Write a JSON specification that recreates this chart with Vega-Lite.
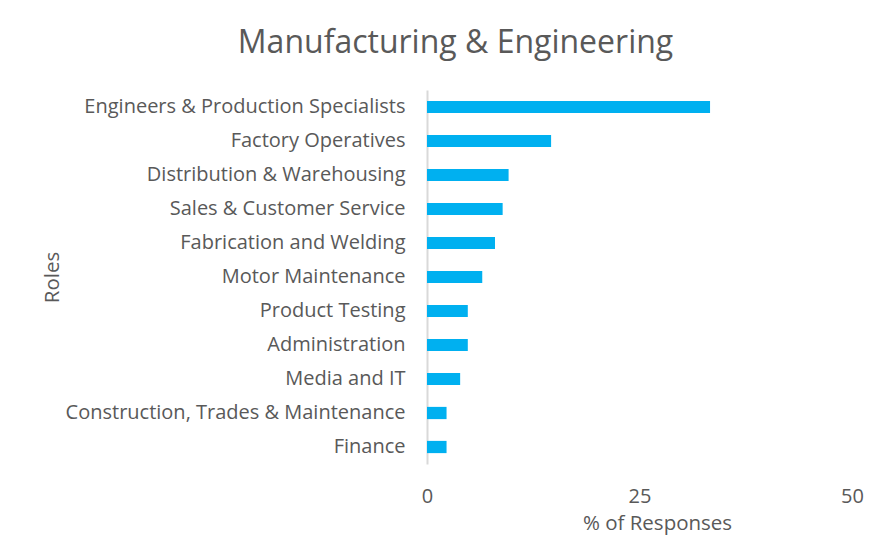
{
  "$schema": "https://vega.github.io/schema/vega-lite/v6.json",
  "width": 425,
  "height": 374,
  "autosize": {"type": "none"},
  "padding": {"left": 427, "top": 90, "right": 24, "bottom": 75},
  "background": "white",
  "title": {
    "text": "Manufacturing & Engineering",
    "font": "Open Sans",
    "fontSize": 32,
    "fontWeight": "normal",
    "color": "#595959",
    "anchor": "middle",
    "dx": -184,
    "offset": 30
  },
  "data": {
    "values": [
      {"role": "Engineers & Production Specialists", "pct": 33.3},
      {"role": "Factory Operatives", "pct": 14.6},
      {"role": "Distribution & Warehousing", "pct": 9.6},
      {"role": "Sales & Customer Service", "pct": 8.9},
      {"role": "Fabrication and Welding", "pct": 8.0},
      {"role": "Motor Maintenance", "pct": 6.5},
      {"role": "Product Testing", "pct": 4.8},
      {"role": "Administration", "pct": 4.8},
      {"role": "Media and IT", "pct": 3.9},
      {"role": "Construction, Trades & Maintenance", "pct": 2.3},
      {"role": "Finance", "pct": 2.3}
    ]
  },
  "mark": {"type": "bar", "color": "#00B0F0"},
  "encoding": {
    "y": {
      "field": "role",
      "type": "nominal",
      "sort": null,
      "scale": {"paddingInner": 0.64, "paddingOuter": 0.32},
      "axis": {
        "title": "Roles",
        "titleFont": "Open Sans",
        "titleFontSize": 20.5,
        "titleFontWeight": "normal",
        "titleColor": "#595959",
        "titleX": -375,
        "titleY": 187,
        "titleAngle": -90,
        "titleBaseline": "middle",
        "titleAlign": "center",
        "labelFont": "Open Sans",
        "labelFontSize": 20,
        "labelColor": "#595959",
        "labelPadding": 22,
        "labelLimit": 500,
        "ticks": false,
        "domainColor": "#d9d9d9",
        "domainWidth": 2
      }
    },
    "x": {
      "field": "pct",
      "type": "quantitative",
      "scale": {"domain": [0, 50]},
      "axis": {
        "title": "% of Responses",
        "titleFont": "Open Sans",
        "titleFontSize": 20.5,
        "titleFontWeight": "normal",
        "titleColor": "#595959",
        "titleX": 230,
        "titleY": 59,
        "titleBaseline": "middle",
        "titleAlign": "center",
        "values": [0, 25, 50],
        "labelFont": "Open Sans",
        "labelFontSize": 20,
        "labelColor": "#595959",
        "labelPadding": 22,
        "labelFlush": false,
        "ticks": false,
        "domain": false,
        "grid": false
      }
    }
  },
  "config": {"view": {"stroke": null}}
}
